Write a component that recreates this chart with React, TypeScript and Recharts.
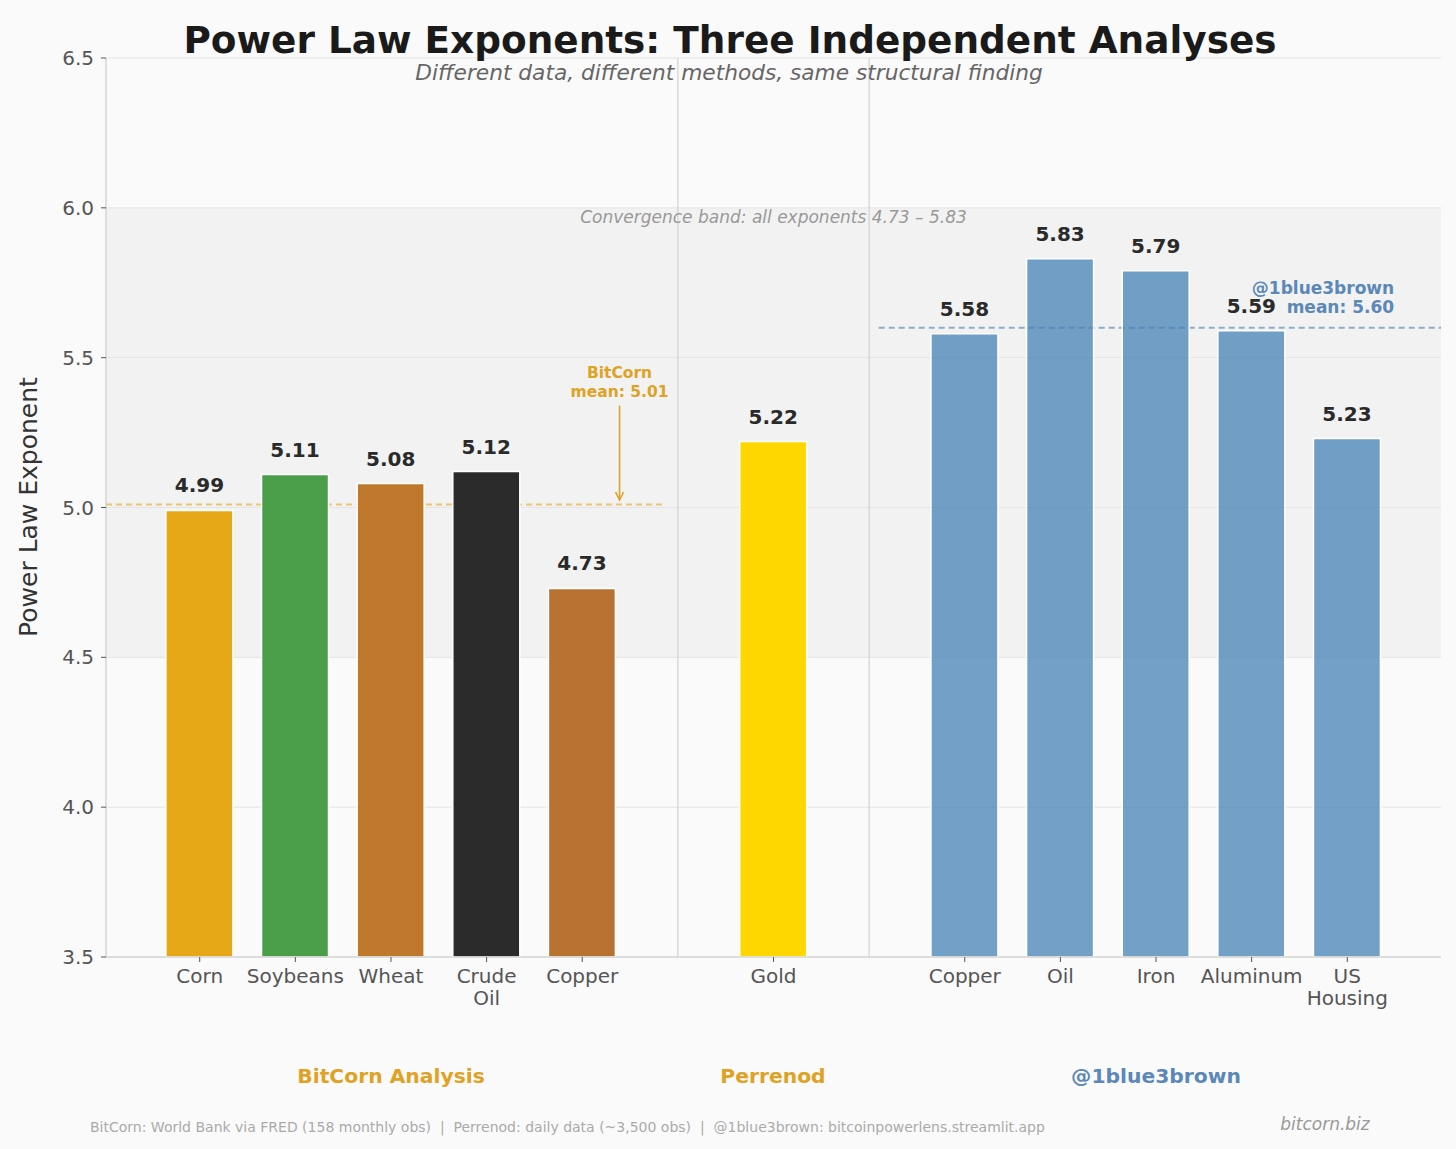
import React from "react";
import {
  BarChart,
  Bar,
  XAxis,
  YAxis,
  CartesianGrid,
  Cell,
  LabelList,
  ReferenceArea,
  ReferenceLine,
  ReferenceDot,
} from "recharts";

// three analyses, one empty slot between groups
const groupNames = ["BitCorn Analysis", "Perrenod", "@1blue3brown"];
const bitcornAssets = ["Corn", "Soybeans", "Wheat", "Crude\nOil", "Copper"];
const bitcornExponents = [4.99, 5.11, 5.08, 5.12, 4.73];
const perrenodAssets = ["Gold"];
const perrenodExponents = [5.22];
const blueAssets = ["Copper", "Oil", "Iron", "Aluminum", "US\nHousing"];
const blueExponents = [5.58, 5.83, 5.79, 5.59, 5.23];

const bitcornMean = 5.01;
const blueMean = 5.6;
const bandLow = 4.5;
const bandHigh = 6.0;
const yTicks = [3.5, 4.0, 4.5, 5.0, 5.5, 6.0, 6.5];

const footerText =
  "BitCorn: World Bank via FRED (158 monthly obs)  |  Perrenod: daily data (~3,500 obs)  |  @1blue3brown: bitcoinpowerlens.streamlit.app";

const bitcornColors = ["#E6A817", "#4A9E4A", "#C0782C", "#2B2B2B", "#B87333"];
const gold = "#FFD700";
const blue = "#4682B4";
const orangeText = "#DFA224";
const blueText = "#5B88B8";

const groups = [
  { assets: bitcornAssets, values: bitcornExponents },
  { assets: perrenodAssets, values: perrenodExponents },
  { assets: blueAssets, values: blueExponents },
];

const data: { x: number; name: string; value: number; group: number; i: number }[] = [];
let slot = 0;
groups.forEach((g, gi) => {
  g.assets.forEach((name, i) => {
    data.push({ x: slot, name, value: g.values[i], group: gi, i });
    slot += 1;
  });
  slot += 1;
});

const colorFor = (d: { group: number; i: number }) =>
  d.group === 0 ? bitcornColors[d.i] : d.group === 1 ? gold : blue;

const XTick = (props: any) => {
  const { x, y, payload } = props;
  const item = data.find((d) => d.x === payload.value);
  if (!item) return null;
  const lines = item.name.split("\n");
  return (
    <text x={x} y={y + 19} textAnchor="middle" fill="#555" fontSize={20}>
      {lines.map((l, k) => (
        <tspan key={k} x={x} dy={k === 0 ? 0 : 22}>
          {l}
        </tspan>
      ))}
    </text>
  );
};

const ValueLabel = (props: any) => {
  const { x, y, width, value } = props;
  return (
    <text
      x={x + width / 2}
      y={y - 18}
      textAnchor="middle"
      fill="#2a2a2a"
      fontSize={20}
      fontWeight="bold"
    >
      {Number(value).toFixed(2)}
    </text>
  );
};

const ArrowShape = (props: any) => {
  const { x1, y1, x2, y2 } = props;
  const dir = y2 > y1 ? 1 : -1;
  return (
    <g>
      <line x1={x1} y1={y1} x2={x2} y2={y2 - dir * 2} stroke={orangeText} strokeWidth={1.6} />
      <path
        d={`M${x2 - 4},${y2 - dir * 8} L${x2},${y2} L${x2 + 4},${y2 - dir * 8}`}
        fill="none"
        stroke={orangeText}
        strokeWidth={1.6}
      />
    </g>
  );
};

const noteShape = (lines: string[], color: string, anchor: "middle" | "end", size: number) =>
  (props: any) => {
    const { cx, cy } = props;
    return (
      <text
        x={cx}
        y={cy}
        textAnchor={anchor}
        fill={color}
        fontSize={size}
        fontWeight="bold"
      >
        {lines.map((l, k) => (
          <tspan key={k} x={cx} dy={k === 0 ? -4 : 19}>
            {l}
          </tspan>
        ))}
      </text>
    );
  };

export default function App() {
  return (
    <div
      style={{
        position: "absolute",
        left: 0,
        top: 0,
        width: 1456,
        height: 1149,
        background: "#fafafa",
        fontFamily: "'DejaVu Sans', sans-serif",
        overflow: "hidden",
      }}
    >
      <BarChart
        width={1456}
        height={1149}
        data={data}
        margin={{ top: 58, right: 15, bottom: 0, left: 0 }}
      >
        <ReferenceArea
          y1={bandLow}
          y2={bandHigh}
          fill="#f2f2f2"
          fillOpacity={1}
          stroke="none"
          zIndex={-200}
          label={{
            value: "Convergence band: all exponents 4.73 – 5.83",
            position: "insideTop",
            offset: 3,
            fill: "#999",
            fontSize: 17,
            fontStyle: "italic",
          }}
        />
        <CartesianGrid vertical={false} stroke="#e4e4e4" strokeWidth={1} />
        <XAxis
          type="number"
          dataKey="x"
          domain={[-0.98, 12.98]}
          allowDataOverflow
          ticks={data.map((d) => d.x)}
          interval={0}
          tick={<XTick />}
          tickLine={{ stroke: "#555" }}
          tickSize={5}
          axisLine={{ stroke: "#cccccc", strokeWidth: 1.2 }}
          height={192}
        />
        <YAxis
          type="number"
          domain={[3.5, 6.5]}
          allowDataOverflow
          ticks={yTicks}
          interval={0}
          tickFormatter={(v: number) => v.toFixed(1)}
          tick={{ fill: "#555", fontSize: 20 }}
          tickLine={{ stroke: "#555" }}
          tickSize={5}
          tickMargin={7}
          axisLine={{ stroke: "#cccccc", strokeWidth: 1.2 }}
          width={106}
        />
        <ReferenceLine x={5} stroke="#d2d2d2" strokeWidth={1.2} zIndex={-50} />
        <ReferenceLine x={7} stroke="#d2d2d2" strokeWidth={1.2} zIndex={-50} />
        <ReferenceLine
          segment={[
            { x: -0.98, y: bitcornMean },
            { x: 4.87, y: bitcornMean },
          ]}
          stroke="#E6A817"
          strokeOpacity={0.6}
          strokeWidth={2}
          strokeDasharray="6 4"
          zIndex={-50}
        />
        <ReferenceLine
          segment={[
            { x: 7.1, y: blueMean },
            { x: 12.98, y: blueMean },
          ]}
          stroke={blue}
          strokeOpacity={0.6}
          strokeWidth={2}
          strokeDasharray="6 4"
          zIndex={-50}
        />
        <Bar
          dataKey="value"
          barSize={67}
          stroke="#ffffff"
          strokeWidth={1.5}
          isAnimationActive={false}
        >
          {data.map((d) => (
            <Cell
              key={d.x}
              fill={colorFor(d)}
              fillOpacity={d.group === 2 ? 0.75 : 1}
            />
          ))}
          <LabelList dataKey="value" content={<ValueLabel />} />
        </Bar>
        <ReferenceLine
          segment={[
            { x: 4.39, y: 5.34 },
            { x: 4.39, y: 5.025 },
          ]}
          shape={<ArrowShape />}
        />
        <ReferenceDot
          x={4.39}
          y={5.42}
          r={0}
          shape={noteShape(["BitCorn", "mean: 5.01"], orangeText, "middle", 15.5)}
        />
        <ReferenceDot
          x={12.49}
          y={5.7}
          r={0}
          shape={noteShape(["@1blue3brown", "mean: 5.60"], blueText, "end", 17)}
        />
      </BarChart>
      <svg
        width={1456}
        height={1149}
        style={{ position: "absolute", left: 0, top: 0, pointerEvents: "none" }}
      >
        <text x={730} y={53} textAnchor="middle" fontSize={37.4} fontWeight="bold" fill="#1a1a1a">
          Power Law Exponents: Three Independent Analyses
        </text>
        <text x={729} y={80} textAnchor="middle" fontSize={21.7} fontStyle="italic" fill="#666">
          Different data, different methods, same structural finding
        </text>
        <text
          transform="translate(28,507) rotate(-90)"
          textAnchor="middle"
          dominantBaseline="central"
          fontSize={25}
          fill="#333"
        >
          Power Law Exponent
        </text>
        <text x={391} y={1083} textAnchor="middle" fontSize={20.3} fontWeight="bold" fill={orangeText}>
          {groupNames[0]}
        </text>
        <text x={773} y={1083} textAnchor="middle" fontSize={20.3} fontWeight="bold" fill={orangeText}>
          {groupNames[1]}
        </text>
        <text x={1156} y={1083} textAnchor="middle" fontSize={20.3} fontWeight="bold" fill={blueText}>
          {groupNames[2]}
        </text>
        <text x={90} y={1132} fontSize={14} fill="#aaa" style={{ whiteSpace: "pre" }}>
          {footerText}
        </text>
        <text x={1325} y={1130} textAnchor="middle" fontSize={17} fontStyle="italic" fill="#999">
          bitcorn.biz
        </text>
      </svg>
    </div>
  );
}
